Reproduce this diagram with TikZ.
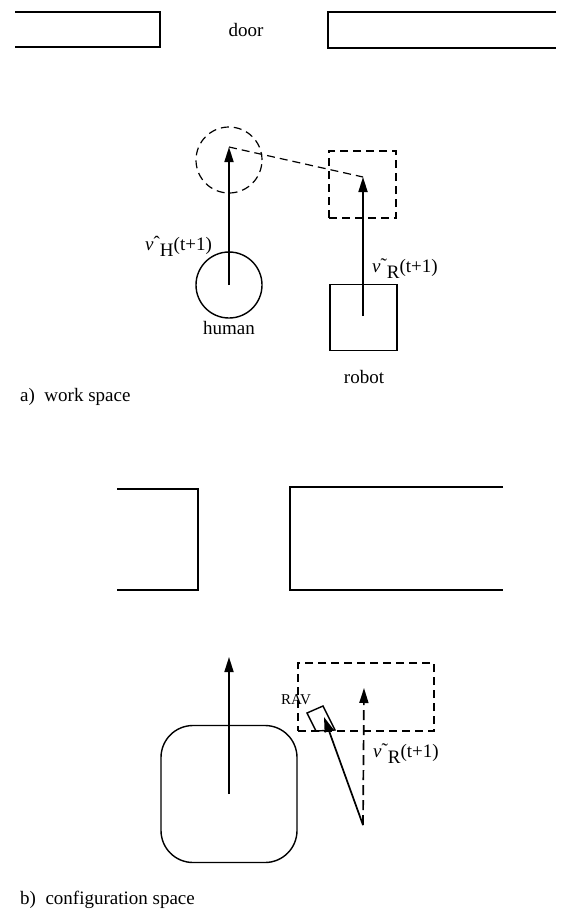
\documentclass[tikz,border=0pt]{standalone}
\usepackage{fontspec}
\setmainfont{Liberation Serif}
\usetikzlibrary{arrows.meta}
\tikzset{
  wall/.style={line width=1.7pt},
  thin/.style={line width=1.4pt},
  dsh/.style={line width=1.2pt, dash pattern=on 8pt off 5pt},
  vec/.style={line width=1.7pt, -{Triangle[length=15pt,width=9pt]}},
  dvec/.style={line width=1.7pt, dash pattern=on 10pt off 5pt, -{Triangle[length=15pt,width=9pt]}},
  lbl/.style={font=\fontsize{19}{22}\selectfont, inner sep=0pt},
  vlbl/.style={font=\fontsize{19}{22}\selectfont, inner sep=0pt, anchor=base west},
  small/.style={font=\fontsize{15}{17}\selectfont, inner sep=0pt}
}
\begin{document}
\begin{tikzpicture}[x=1pt,y=-1pt]
\useasboundingbox (0,0) rectangle (568,913);
% ---------- a) work space
\draw[wall] (15,12) -- (160,12) -- (160,47) -- (15,47);
\draw[wall] (556,12) -- (328,12) -- (328,48) -- (556,48);
\node[lbl] (door) at (246,30) {door};
% human
\node[draw, circle, thin, minimum size=66pt, inner sep=0pt] (human) at (229,285) {};
\node[draw, circle, dsh, minimum size=66pt, inner sep=0pt] (hnext) at (229,160) {};
\coordinate (htip) at (229,147);
\draw[vec] (human.center) -- (htip);
% robot
\node[draw, thin, minimum width=67pt, minimum height=66pt, inner sep=0pt] (robot) at (363.5,317.5) {};
\node[draw, dsh, minimum width=67pt, minimum height=67pt, inner sep=0pt] (rnext) at (362.5,184.5) {};
\coordinate (rtail) at (363,316);
\coordinate (rtip) at (363,177);
\draw[vec] (rtail) -- (rtip);
\draw[dsh] (htip) -- (rtip);
\node[vlbl] (vh) at (145,250) {\textit{v}\raisebox{1pt}{ˆ}\raisebox{-6pt}{H}(t+1)};
\node[vlbl] (vr) at (372,272) {\textit{v}\raisebox{1pt}{˜}\raisebox{-6pt}{R}(t+1)};
\node[lbl] (hl) at (229,328) {human};
\node[lbl] (rl) at (364,377) {robot};
\node[lbl, anchor=west] (capa) at (20,397) {a)\ \ work space};
% ---------- b) configuration space
\draw[wall] (117,489) -- (198,489) -- (198,590) -- (117,590);
\draw[wall] (503,487) -- (290,487) -- (290,590) -- (503,590);
\node[draw, thin, rounded corners=32pt, minimum width=136pt, minimum height=137pt, inner sep=0pt] (hc) at (229,794) {};
\coordinate (hctip) at (229,657);
\draw[vec] (hc.center) -- (hctip);
\node[draw, dsh, minimum width=136pt, minimum height=68pt, inner sep=0pt] (rc) at (366,697) {};
\coordinate (base) at (363,825);
\coordinate (dtip) at (364,688);
\coordinate (atip) at (324,717);
\draw[dvec] (base) -- (dtip);
\draw[thin] (307,713) -- (323,706) -- (335,730) -- (316,731) -- cycle;
\draw[vec] (base) -- (atip);
\node[small] (rav) at (296,700) {RAV};
\node[vlbl] (vr2) at (373,757) {\textit{v}\raisebox{1pt}{˜}\raisebox{-6pt}{R}(t+1)};
\node[lbl, anchor=west] (capb) at (20,900) {b)\ \ configuration space};
\end{tikzpicture}
\end{document}
